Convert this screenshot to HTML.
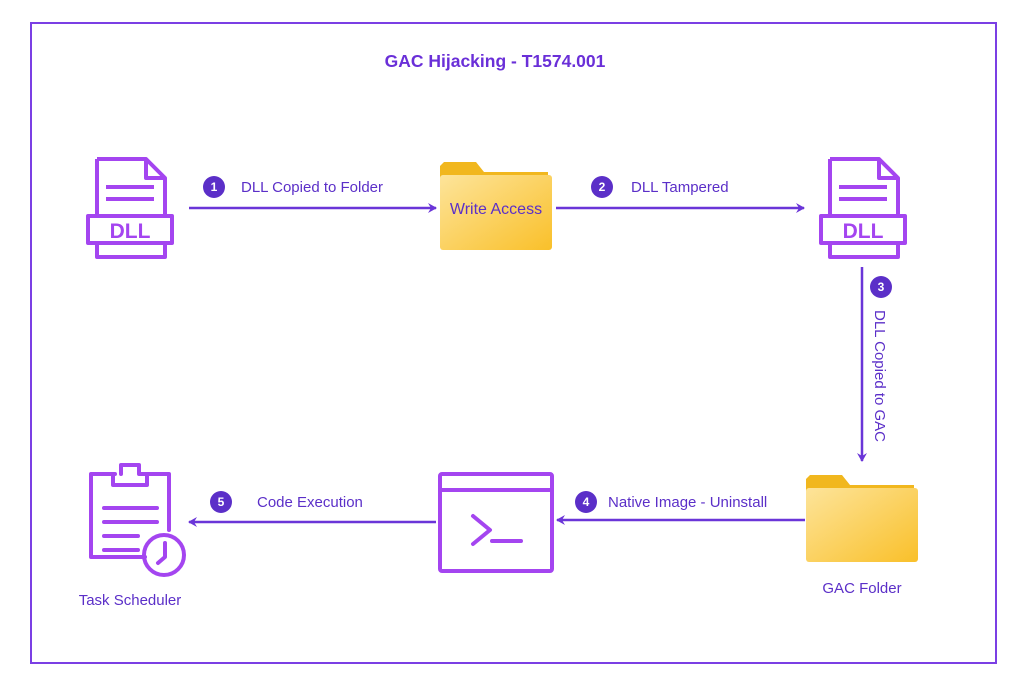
<!DOCTYPE html>
<html><head><meta charset="utf-8"><style>
html,body{margin:0;padding:0;background:#fff;width:1024px;height:689px;overflow:hidden}
text{font-family:"Liberation Sans",sans-serif}
</style></head><body>
<svg width="1024" height="689" viewBox="0 0 1024 689" xmlns="http://www.w3.org/2000/svg">
<defs>
<linearGradient id="fg" x1="0" y1="0" x2="1" y2="1">
<stop offset="0" stop-color="#fde49a"/><stop offset="1" stop-color="#f9c02a"/></linearGradient>
<marker id="ah" markerWidth="10" markerHeight="10" refX="8" refY="5" orient="auto" markerUnits="userSpaceOnUse">
<path d="M0,0 L9,5 L0,10 L3,5 Z" fill="#6a35d8"/></marker>
</defs>
<rect x="31" y="23" width="965" height="640" fill="none" stroke="#7b3fe4" stroke-width="2"/>
<text x="495" y="67" text-anchor="middle" font-size="17.5" font-weight="bold" fill="#6a2fd8">GAC Hijacking - T1574.001</text>

<g id="dll1" fill="none" stroke="#a445f0" stroke-width="4" stroke-linejoin="round">
<path d="M97,159 H146 L165,178 V216"/><path d="M146,159 V178 H165"/><path d="M97,159 V216"/>
<rect x="88" y="216" width="84" height="27"/>
<path d="M97,243 V257 H165 V243"/>
<line x1="106" y1="187" x2="154" y2="187"/><line x1="106" y1="199" x2="154" y2="199"/>
</g>
<text x="130" y="238" text-anchor="middle" font-size="21" font-weight="bold" fill="#a445f0">DLL</text>
<use href="#dll1" x="733" y="0"/>
<text x="863" y="238" text-anchor="middle" font-size="21" font-weight="bold" fill="#a445f0">DLL</text>

<g stroke="#6a35d8" stroke-width="2.5" fill="none">
<line x1="189" y1="208" x2="436" y2="208" marker-end="url(#ah)"/>
<line x1="556" y1="208" x2="804" y2="208" marker-end="url(#ah)"/>
<line x1="862" y1="267" x2="862" y2="461" marker-end="url(#ah)"/>
<line x1="805" y1="520" x2="557" y2="520" marker-end="url(#ah)"/>
<line x1="436" y1="522" x2="189" y2="522" marker-end="url(#ah)"/>
</g>
<g fill="#5b2fc8">
<circle cx="214" cy="187" r="11"/><circle cx="602" cy="187" r="11"/><circle cx="881" cy="287" r="11"/>
<circle cx="586" cy="502" r="11"/><circle cx="221" cy="502" r="11"/>
</g>
<g fill="#fff" font-size="12" font-weight="bold" text-anchor="middle">
<text x="214" y="191">1</text><text x="602" y="191">2</text><text x="881" y="291">3</text>
<text x="586" y="506">4</text><text x="221" y="506">5</text>
</g>
<g fill="#5b2fc8" font-size="15">
<text x="241" y="192">DLL Copied to Folder</text>
<text x="631" y="192">DLL Tampered</text>
<text x="608" y="507">Native Image - Uninstall</text>
<text x="257" y="507">Code Execution</text>
<text transform="translate(875,310) rotate(90)">DLL Copied to GAC</text>
<text x="862" y="593" text-anchor="middle">GAC Folder</text>
<text x="130" y="605" text-anchor="middle">Task Scheduler</text>
</g>

<path d="M444,162 H476 L484,172 H548 V185 H440 V166 Z" fill="#f1b71e"/>
<rect x="440" y="175" width="112" height="75" rx="3" fill="url(#fg)"/>
<text x="496" y="214" text-anchor="middle" font-size="16" fill="#5b2fc8">Write Access</text>
<path d="M810,475 H842 L850,485 H914 V498 H806 V479 Z" fill="#f1b71e"/>
<rect x="806" y="488" width="112" height="74" rx="3" fill="url(#fg)"/>

<g fill="none" stroke="#a445f0" stroke-width="4" stroke-linejoin="round" stroke-linecap="round">
<rect x="440" y="474" width="112" height="97" rx="2"/>
<line x1="440" y1="490" x2="552" y2="490"/>
<path d="M473,516 L490,530 L473,544"/>
<line x1="492" y1="541" x2="521" y2="541"/>
</g>
<g fill="none" stroke="#a445f0" stroke-width="4" stroke-linejoin="round" stroke-linecap="round">
<path d="M145,557 H91 V474 H115"/><path d="M145,474 H169 V530"/>
<path d="M113,474 V485 H147 V474 H139 V465 H121 V474"/>
<line x1="104" y1="508" x2="157" y2="508"/><line x1="104" y1="522" x2="157" y2="522"/>
<line x1="104" y1="536" x2="138" y2="536"/><line x1="104" y1="550" x2="138" y2="550"/>
<circle cx="164" cy="555" r="20"/>
<path d="M165,543 V557 L158,563"/>
</g>
</svg>
</body></html>
